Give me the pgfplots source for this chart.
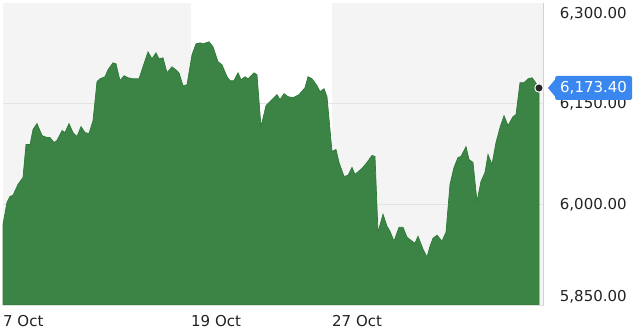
\documentclass[border=0pt]{standalone}
\usepackage{pgfplots}
\pgfplotsset{compat=1.18}
\usepackage{fontspec}
\setmainfont{DejaVu Sans}
\definecolor{bandgray}{HTML}{F4F4F4}
\definecolor{gridgray}{HTML}{E4E4E4}
\definecolor{areagreen}{HTML}{3C8446}
\definecolor{edgegreen}{HTML}{2C7A36}
\definecolor{callblue}{HTML}{3A87F0}
\definecolor{labeltext}{HTML}{222222}
\begin{document}
\begin{tikzpicture}
\begin{axis}[
  set layers,
  at={(3pt,26pt)}, anchor=south west,
  scale only axis, width=540.7pt, height=302pt,
  xmin=3, xmax=543.7, ymin=5850, ymax=6300,
  axis line style={draw=none},
  major tick length=0pt,
  ytick={6000,6150},
  yticklabels={6{,}000.00, 6{,}150.00},
  yticklabel pos=right,
  ymajorgrids, grid style={gridgray, line width=1pt},
  yticklabel style={anchor=west, inner sep=0pt, xshift=16pt, text=labeltext, font=\fontsize{15}{18}\selectfont},
  xtick={3,191,332},
  xticklabels={7 Oct, 19 Oct, 27 Oct},
  xticklabel style={anchor=north west, inner sep=0pt, yshift=-10pt, text=labeltext, font=\fontsize{15}{18}\selectfont},
  clip=false,
]
\begin{pgfonlayer}{axis background}
\fill[bandgray] (axis cs:3,5850) rectangle (axis cs:191,6300);
\fill[bandgray] (axis cs:332,5850) rectangle (axis cs:543.7,6300);
\end{pgfonlayer}
\addplot[fill=areagreen, draw=edgegreen, line width=0.7pt] table {
x y
3 5970.3
7 6003.0
10 6011.9
13 6013.4
18 6029.7
23 6040.1
26 6089.1
30 6089.1
33 6111.4
37 6120.3
42 6102.5
47 6099.5
50 6099.5
54 6092.1
57 6095.1
62 6109.9
65 6106.9
69 6120.3
73 6106.9
77 6101.0
81 6115.8
85 6106.9
89 6105.4
93 6124.8
97 6182.7
100 6187.1
105 6190.1
108 6200.5
113 6210.9
116 6209.4
120 6184.2
124 6191.6
128 6188.6
133 6187.1
139 6187.1
143 6204.9
148 6227.2
152 6216.8
156 6225.7
159 6216.8
163 6218.3
167 6196.0
172 6204.9
177 6199.0
179 6196.0
183 6176.7
187 6178.2
192 6222.8
196 6239.1
200 6240.6
203 6239.1
209 6242.1
213 6234.7
218 6212.4
222 6207.9
227 6190.1
230 6184.2
234 6184.2
238 6196.0
241 6185.6
245 6190.1
248 6187.1
254 6196.0
257 6193.1
261 6115.8
266 6147.0
272 6155.9
277 6163.4
280 6155.9
284 6164.9
288 6160.4
293 6158.9
299 6163.4
305 6173.8
308 6190.1
312 6187.1
317 6176.7
320 6167.8
324 6172.3
327 6160.4
332 6078.7
336 6081.7
339 6062.4
344 6041.6
348 6043.1
352 6055.0
355 6044.6
362 6053.5
367 6062.4
372 6072.8
375 6071.3
378 5958.4
383 5985.2
387 5967.3
390 5959.9
394 5945.1
399 5965.8
403 5965.8
407 5951.0
412 5945.1
415 5942.1
418 5952.5
423 5933.2
427 5921.3
430 5937.6
433 5949.5
437 5954.0
442 5945.1
446 5958.4
450 6029.7
454 6055.0
458 6069.8
461 6071.3
466 6086.1
469 6066.8
473 6062.4
477 6004.5
481 6034.2
485 6047.5
488 6074.3
492 6059.4
496 6092.1
500 6114.4
504 6132.2
508 6117.3
513 6130.7
516 6133.7
520 6181.2
524 6181.2
528 6187.1
532 6188.6
535 6182.7
539 6173.4
} \closedcycle;
\draw[gray!35, line width=0.8pt] (rel axis cs:1,0) -- (rel axis cs:1,1);
\draw[gray!25, line width=0.8pt] (rel axis cs:0,0) -- (rel axis cs:1,0);
\addplot[only marks, mark=*, mark size=4.2pt, mark options={fill=black!85, draw=white, line width=1pt}] coordinates {(539,6173.4)};
\node[anchor=west, inner sep=0pt, xshift=16pt, text=labeltext, font=\fontsize{15}{18}\selectfont] at (rel axis cs:1,0.9636) {6,300.00};
\node[anchor=west, inner sep=0pt, xshift=16pt, text=labeltext, font=\fontsize{15}{18}\selectfont] at (rel axis cs:1,0.0265) {5,850.00};
\node[name=callout, anchor=west, fill=callblue, text=white, rounded corners=2pt, inner xsep=5pt, inner ysep=0pt, minimum height=24pt, font=\fontsize{15}{18}\selectfont, xshift=16pt] at (axis cs:539,6173.4) {6,173.40};
\fill[callblue] ([yshift=9pt,xshift=0.5pt]callout.west) -- ([xshift=-7pt]callout.west) -- ([yshift=-9pt,xshift=0.5pt]callout.west) -- cycle;
\end{axis}
\path (0,0) rectangle (642pt,331pt);
\end{tikzpicture}
\end{document}
